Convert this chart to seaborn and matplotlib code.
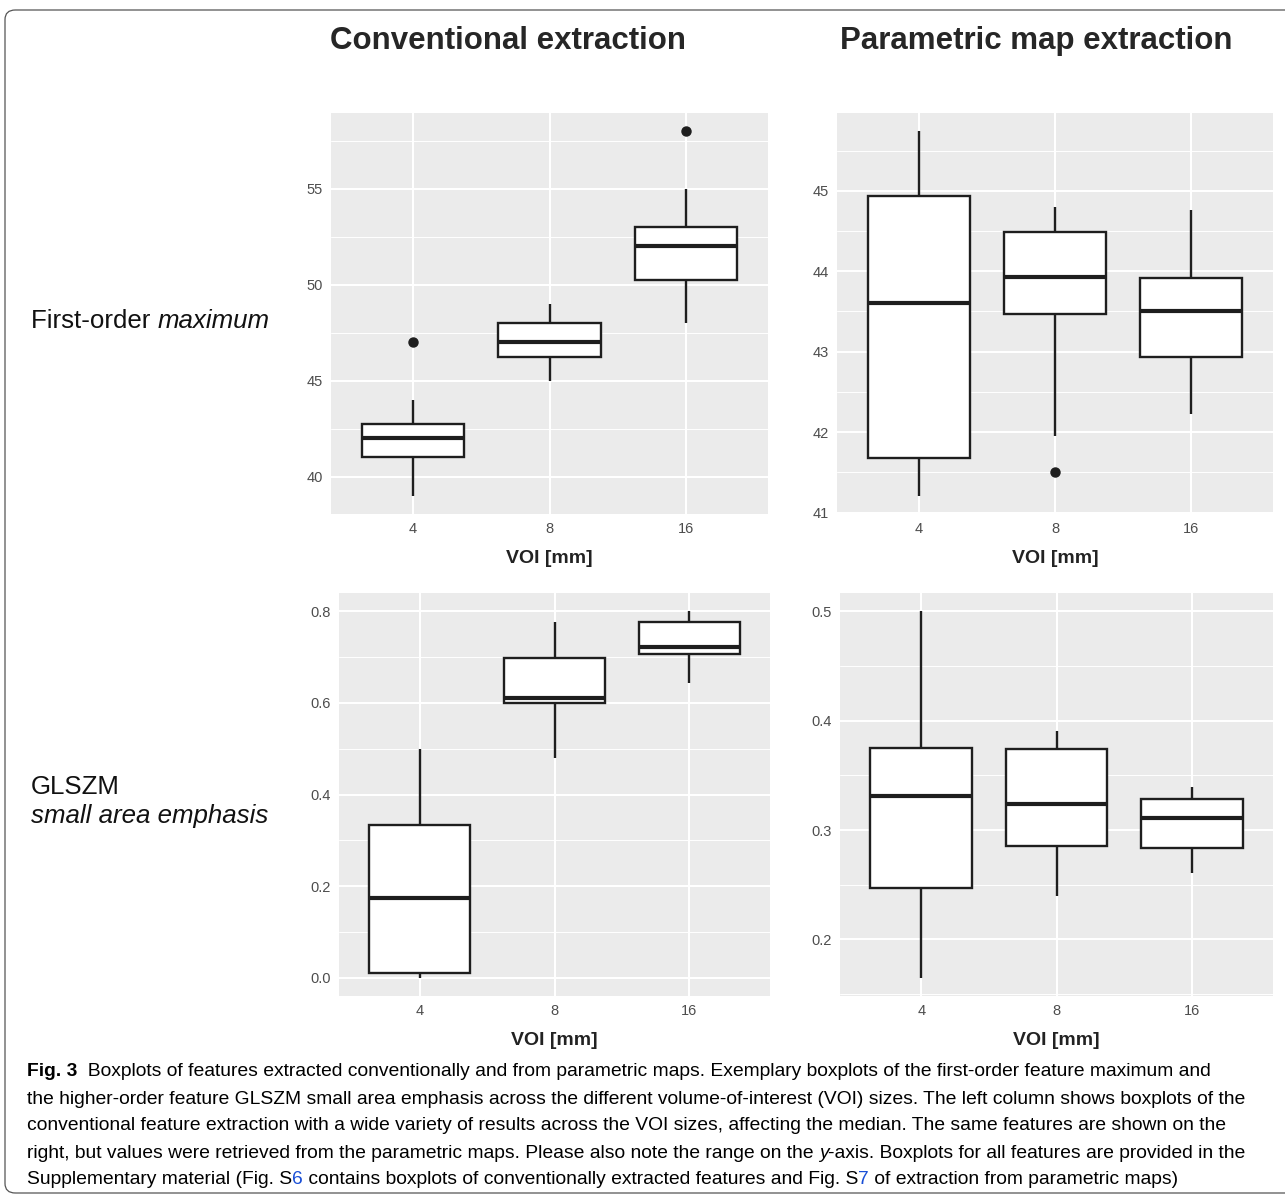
import matplotlib
matplotlib.use("Agg")
import matplotlib.pyplot as plt
import seaborn as sns
import pandas as pd
from matplotlib.ticker import MultipleLocator, FormatStrFormatter
from matplotlib.patches import FancyBboxPatch

# ---------------- data ----------------
voi_sizes = ["4", "8", "16"]

# First-order maximum, conventional extraction
conv_max_4 = [39.0, 41.0, 41.0, 42.0, 42.0, 42.75, 42.75, 44.0, 47.0]
conv_max_8 = [45.0, 46.25, 47.0, 48.0, 49.0]
conv_max_16 = [48.0, 50.25, 50.25, 52.0, 52.0, 53.0, 53.0, 55.0, 58.0]
# First-order maximum, parametric map extraction
param_max_4 = [41.21, 41.68, 43.61, 44.93, 45.74]
param_max_8 = [41.51, 41.95, 43.47, 43.93, 43.93, 44.49, 44.49, 44.80, 44.80]
param_max_16 = [42.22, 42.93, 43.51, 43.92, 44.76]
# GLSZM small area emphasis, conventional extraction
conv_sae_4 = [0.000, 0.010, 0.173, 0.334, 0.500]
conv_sae_8 = [0.480, 0.600, 0.611, 0.699, 0.777]
conv_sae_16 = [0.643, 0.707, 0.723, 0.777, 0.800]
# GLSZM small area emphasis, parametric map extraction
param_sae_4 = [0.165, 0.247, 0.331, 0.375, 0.500]
param_sae_8 = [0.240, 0.285, 0.324, 0.374, 0.391]
param_sae_16 = [0.261, 0.284, 0.311, 0.328, 0.339]

col_titles = ["Conventional extraction", "Parametric map extraction"]
x_label = "VOI [mm]"

conv_max_ticks = [40, 45, 50, 55]
param_max_ticks = [41, 42, 43, 44, 45]
conv_sae_ticks = [0.0, 0.2, 0.4, 0.6, 0.8]
param_sae_ticks = [0.2, 0.3, 0.4, 0.5]

caption_lines = [
    [("Fig. 3", "bold", "black"), ("  Boxplots of features extracted conventionally and from parametric maps. Exemplary boxplots of the first-order feature maximum and", "normal", "black")],
    [("the higher-order feature GLSZM small area emphasis across the different volume-of-interest (VOI) sizes. The left column shows boxplots of the", "normal", "black")],
    [("conventional feature extraction with a wide variety of results across the VOI sizes, affecting the median. The same features are shown on the", "normal", "black")],
    [("right, but values were retrieved from the parametric maps. Please also note the range on the ", "normal", "black"), ("y", "italic", "black"), ("-axis. Boxplots for all features are provided in the", "normal", "black")],
    [("Supplementary material (Fig. S", "normal", "black"), ("6", "normal", "#1a4fd6"), (" contains boxplots of conventionally extracted features and Fig. S", "normal", "black"), ("7", "normal", "#1a4fd6"), (" of extraction from parametric maps)", "normal", "black")],
]


def frame(a4, a8, a16):
    vals = list(a4) + list(a8) + list(a16)
    cats = ["4"] * len(a4) + ["8"] * len(a8) + ["16"] * len(a16)
    return pd.DataFrame({"voi": cats, "value": vals})


# ---------------- style ----------------
sns.set_theme(style="darkgrid", rc={
    "axes.facecolor": "#EBEBEB",
    "grid.color": "white",
    "axes.edgecolor": "#EBEBEB",
})
plt.rcParams["font.family"] = ["Liberation Sans", "DejaVu Sans"]

W, H = 1285, 1196
fig = plt.figure(figsize=(W / 100, H / 100), dpi=100)
fig.patch.set_facecolor("white")


def px_axes(left, top, right, bottom):
    return fig.add_axes([left / W, 1 - bottom / H, (right - left) / W, (bottom - top) / H])


LINE = "#1e1e1e"


def panel(ax, df, ticks, minor_step, fmt):
    sns.boxplot(
        data=df, x="voi", y="value", order=voi_sizes, ax=ax,
        width=0.75, color="white", linecolor=LINE, linewidth=1.7,
        fliersize=6.5, showcaps=False, saturation=1,
        medianprops={"linewidth": 3.0, "color": LINE},
        flierprops={"marker": "o", "markerfacecolor": LINE, "markeredgecolor": LINE},
    )
    lo, hi = df["value"].min(), df["value"].max()
    pad = (hi - lo) * 0.05
    ax.set_ylim(lo - pad, hi + pad)
    ax.set_xlim(-0.6, 2.6)
    ax.set_yticks(ticks)
    ax.yaxis.set_major_formatter(FormatStrFormatter(fmt))
    ax.yaxis.set_minor_locator(MultipleLocator(minor_step))
    ax.grid(which="major", color="white", linewidth=1.5)
    ax.grid(which="minor", axis="y", color="white", linewidth=0.7)
    ax.set_axisbelow(True)
    for s in ax.spines.values():
        s.set_visible(False)
    ax.tick_params(which="major", length=3, width=1.1, color="#333333",
                   labelsize=10.5, labelcolor="#4D4D4D", pad=3)
    ax.tick_params(which="minor", length=0)
    ax.set_xlabel(x_label, fontsize=14, fontweight="bold", color="#222222", labelpad=10)
    ax.set_ylabel("")


ax_tl = px_axes(331, 113, 768, 514)
ax_tr = px_axes(837, 113, 1273, 514)
ax_bl = px_axes(339, 593, 770, 996)
ax_br = px_axes(840, 593, 1273, 996)

panel(ax_tl, frame(conv_max_4, conv_max_8, conv_max_16), conv_max_ticks, 2.5, "%d")
panel(ax_tr, frame(param_max_4, param_max_8, param_max_16), param_max_ticks, 0.5, "%d")
panel(ax_bl, frame(conv_sae_4, conv_sae_8, conv_sae_16), conv_sae_ticks, 0.1, "%.1f")
panel(ax_br, frame(param_sae_4, param_sae_8, param_sae_16), param_sae_ticks, 0.05, "%.1f")

# ---------------- texts ----------------
title_font = ["Liberation Sans", "DejaVu Sans"]
fig.text(508 / W, 1 - 41 / H, col_titles[0], ha="center", va="center",
         fontsize=22.5, fontweight="bold", family=title_font)
fig.text(1036 / W, 1 - 41 / H, col_titles[1], ha="center", va="center",
         fontsize=22.5, fontweight="bold", family=title_font)

renderer = fig.canvas.get_renderer()


def draw_runs(x_px, y_px, runs, size, family):
    x = x_px
    for txt, style, color in runs:
        kw = {}
        if style == "bold":
            kw["fontweight"] = "bold"
        elif style == "italic":
            kw["fontstyle"] = "italic"
        t = fig.text(x / W, 1 - y_px / H, txt, ha="left", va="center",
                     fontsize=size, family=family, color=color, **kw)
        bb = t.get_window_extent(renderer)
        x += bb.width


row_font = ["Liberation Sans", "DejaVu Sans"]
draw_runs(31, 321, [("First-order ", "normal", "#111111"), ("maximum", "italic", "#111111")], 18.6, row_font)
draw_runs(31, 787, [("GLSZM", "normal", "#111111")], 18.6, row_font)
draw_runs(31, 816, [("small area emphasis", "italic", "#111111")], 18.6, row_font)

cap_font = ["Liberation Sans", "DejaVu Sans"]
cap_y = [1072, 1099, 1126, 1153, 1179]
for y, runs in zip(cap_y, caption_lines):
    draw_runs(27, y, runs, 13.9, cap_font)

# frame border around figure + caption
border = FancyBboxPatch((5 / W, 1 - 1193 / H), 1.05, (1193 - 10) / H,
                        boxstyle="round,pad=0,rounding_size=0.008",
                        transform=fig.transFigure, fill=False,
                        edgecolor="#555555", linewidth=0.9, clip_on=False)
fig.patches.append(border)

fig.savefig("out.png", dpi=100)
